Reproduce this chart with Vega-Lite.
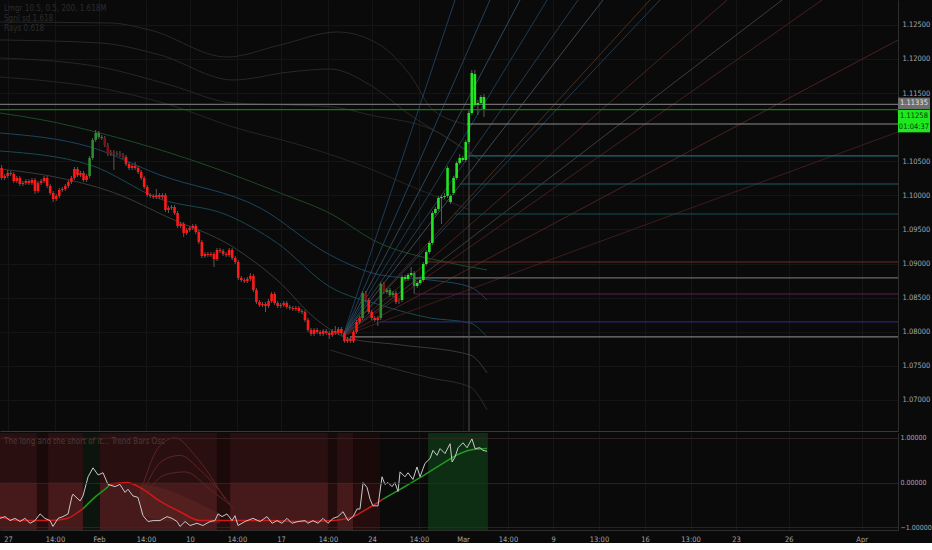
{
"$schema": "https://vega.github.io/schema/vega-lite/v6.json",
"background": "#0a0a0a",
"padding": {"left": -3, "top": 0, "right": 0, "bottom": 0},
"spacing": 1,
"config": {
 "view": {"stroke": null},
 "scale": {"continuousPadding": 0},
 "axis": {"labelFont": "Liberation Sans Narrow, DejaVu Sans Condensed, sans-serif", "labelFontSize": 7.5, "labelColor": "#a3a6ad", "ticks": false, "gridColor": "#161616", "domainColor": "#2e2e2e"},
 "text": {"font": "Liberation Sans Narrow, DejaVu Sans Condensed, sans-serif"}
},
"resolve": {"scale": {"y": "independent", "color": "independent"}},
"datasets": {
 "candles": [
{"t":-0.35,"o":1.10402,"h":1.10446,"l":1.10226,"c":1.10255,"tr":"bs"},
{"t":-0.183,"o":1.10255,"h":1.10314,"l":1.10226,"c":1.10285,"tr":"bs"},
{"t":-0.017,"o":1.10285,"h":1.10373,"l":1.10255,"c":1.10329,"tr":"bs"},
{"t":0.15,"o":1.10329,"h":1.10358,"l":1.10285,"c":1.10314,"tr":"bs"},
{"t":0.317,"o":1.10314,"h":1.10343,"l":1.10182,"c":1.10211,"tr":"bs"},
{"t":0.483,"o":1.10211,"h":1.10285,"l":1.10182,"c":1.10255,"tr":"bs"},
{"t":0.65,"o":1.10255,"h":1.10285,"l":1.10138,"c":1.10167,"tr":"bs"},
{"t":0.817,"o":1.10167,"h":1.10211,"l":1.10138,"c":1.10182,"tr":"bs"},
{"t":0.983,"o":1.10182,"h":1.10240,"l":1.10152,"c":1.10211,"tr":"bs"},
{"t":1.15,"o":1.10211,"h":1.10240,"l":1.10152,"c":1.10182,"tr":"bs"},
{"t":1.317,"o":1.10182,"h":1.10255,"l":1.10152,"c":1.10226,"tr":"bs"},
{"t":1.483,"o":1.10226,"h":1.10255,"l":1.10020,"c":1.10065,"tr":"bs"},
{"t":1.65,"o":1.10065,"h":1.10211,"l":1.10035,"c":1.10182,"tr":"bs"},
{"t":1.817,"o":1.10182,"h":1.10240,"l":1.10152,"c":1.10211,"tr":"bs"},
{"t":1.983,"o":1.10211,"h":1.10285,"l":1.10182,"c":1.10255,"tr":"bs"},
{"t":2.15,"o":1.10255,"h":1.10285,"l":1.10108,"c":1.10138,"tr":"bs"},
{"t":2.317,"o":1.10138,"h":1.10167,"l":1.10006,"c":1.10035,"tr":"bs"},
{"t":2.483,"o":1.10035,"h":1.10065,"l":1.09903,"c":1.09947,"tr":"bs"},
{"t":2.65,"o":1.09947,"h":1.10020,"l":1.09918,"c":1.09991,"tr":"bs"},
{"t":2.817,"o":1.09991,"h":1.10108,"l":1.09962,"c":1.10079,"tr":"bs"},
{"t":2.983,"o":1.10079,"h":1.10123,"l":1.10050,"c":1.10094,"tr":"bs"},
{"t":3.15,"o":1.10094,"h":1.10167,"l":1.10065,"c":1.10138,"tr":"bs"},
{"t":3.317,"o":1.10138,"h":1.10226,"l":1.10108,"c":1.10197,"tr":"bs"},
{"t":3.483,"o":1.10197,"h":1.10285,"l":1.10167,"c":1.10255,"tr":"bs"},
{"t":3.65,"o":1.10255,"h":1.10416,"l":1.10226,"c":1.10387,"tr":"bs"},
{"t":3.817,"o":1.10387,"h":1.10416,"l":1.10270,"c":1.10299,"tr":"bs"},
{"t":3.983,"o":1.10299,"h":1.10358,"l":1.10270,"c":1.10329,"tr":"bs"},
{"t":4.15,"o":1.10329,"h":1.10358,"l":1.10197,"c":1.10226,"tr":"bs"},
{"t":4.317,"o":1.10226,"h":1.10314,"l":1.10197,"c":1.10285,"tr":"bs"},
{"t":4.483,"o":1.10285,"h":1.10578,"l":1.10255,"c":1.10549,"tr":"gw"},
{"t":4.65,"o":1.10549,"h":1.10842,"l":1.10519,"c":1.10813,"tr":"gw"},
{"t":4.817,"o":1.10813,"h":1.10959,"l":1.10783,"c":1.10915,"tr":"gw"},
{"t":4.983,"o":1.10915,"h":1.10944,"l":1.10827,"c":1.10857,"tr":"gw"},
{"t":5.15,"o":1.10857,"h":1.10886,"l":1.10813,"c":1.10842,"tr":"gw"},
{"t":5.317,"o":1.10842,"h":1.10871,"l":1.10710,"c":1.10739,"tr":"bw"},
{"t":5.483,"o":1.10739,"h":1.10768,"l":1.10578,"c":1.10607,"tr":"bw"},
{"t":5.65,"o":1.10607,"h":1.10666,"l":1.10578,"c":1.10637,"tr":"bw"},
{"t":5.817,"o":1.10637,"h":1.10666,"l":1.10373,"c":1.10607,"tr":"bw"},
{"t":5.983,"o":1.10607,"h":1.10651,"l":1.10578,"c":1.10622,"tr":"bw"},
{"t":6.15,"o":1.10622,"h":1.10651,"l":1.10563,"c":1.10593,"tr":"bw"},
{"t":6.317,"o":1.10593,"h":1.10622,"l":1.10534,"c":1.10563,"tr":"bw"},
{"t":6.483,"o":1.10563,"h":1.10593,"l":1.10431,"c":1.10461,"tr":"bs"},
{"t":6.65,"o":1.10461,"h":1.10490,"l":1.10373,"c":1.10402,"tr":"bs"},
{"t":6.817,"o":1.10402,"h":1.10461,"l":1.10373,"c":1.10431,"tr":"bs"},
{"t":6.983,"o":1.10431,"h":1.10490,"l":1.10373,"c":1.10402,"tr":"bs"},
{"t":7.15,"o":1.10402,"h":1.10431,"l":1.10314,"c":1.10343,"tr":"bs"},
{"t":7.317,"o":1.10343,"h":1.10373,"l":1.10226,"c":1.10255,"tr":"bs"},
{"t":7.483,"o":1.10255,"h":1.10285,"l":1.10094,"c":1.10123,"tr":"bs"},
{"t":7.65,"o":1.10123,"h":1.10152,"l":1.09977,"c":1.10006,"tr":"bs"},
{"t":7.817,"o":1.10006,"h":1.10035,"l":1.09962,"c":1.09991,"tr":"bs"},
{"t":7.983,"o":1.09991,"h":1.10020,"l":1.09947,"c":1.09977,"tr":"bs"},
{"t":8.15,"o":1.09977,"h":1.10094,"l":1.09947,"c":1.10006,"tr":"bs"},
{"t":8.317,"o":1.10006,"h":1.10035,"l":1.09947,"c":1.09977,"tr":"bs"},
{"t":8.483,"o":1.09977,"h":1.10035,"l":1.09947,"c":1.10006,"tr":"bs"},
{"t":8.65,"o":1.10006,"h":1.10035,"l":1.09757,"c":1.09786,"tr":"bs"},
{"t":8.817,"o":1.09786,"h":1.09845,"l":1.09742,"c":1.09815,"tr":"bs"},
{"t":8.983,"o":1.09815,"h":1.09859,"l":1.09786,"c":1.09830,"tr":"bs"},
{"t":9.15,"o":1.09830,"h":1.09859,"l":1.09713,"c":1.09742,"tr":"bs"},
{"t":9.317,"o":1.09742,"h":1.09771,"l":1.09522,"c":1.09551,"tr":"bs"},
{"t":9.483,"o":1.09551,"h":1.09610,"l":1.09522,"c":1.09581,"tr":"bs"},
{"t":9.65,"o":1.09581,"h":1.09610,"l":1.09390,"c":1.09449,"tr":"bs"},
{"t":9.817,"o":1.09449,"h":1.09522,"l":1.09420,"c":1.09493,"tr":"bs"},
{"t":9.983,"o":1.09493,"h":1.09551,"l":1.09463,"c":1.09522,"tr":"bs"},
{"t":10.15,"o":1.09522,"h":1.09581,"l":1.09493,"c":1.09551,"tr":"bs"},
{"t":10.317,"o":1.09551,"h":1.09581,"l":1.09434,"c":1.09463,"tr":"bs"},
{"t":10.483,"o":1.09463,"h":1.09493,"l":1.09288,"c":1.09317,"tr":"bs"},
{"t":10.65,"o":1.09317,"h":1.09346,"l":1.09082,"c":1.09111,"tr":"bs"},
{"t":10.817,"o":1.09111,"h":1.09170,"l":1.09082,"c":1.09141,"tr":"bs"},
{"t":10.983,"o":1.09141,"h":1.09170,"l":1.09097,"c":1.09126,"tr":"bs"},
{"t":11.15,"o":1.09126,"h":1.09170,"l":1.09097,"c":1.09141,"tr":"bs"},
{"t":11.317,"o":1.09141,"h":1.09170,"l":1.08950,"c":1.09067,"tr":"bs"},
{"t":11.483,"o":1.09067,"h":1.09229,"l":1.09038,"c":1.09199,"tr":"bs"},
{"t":11.65,"o":1.09199,"h":1.09229,"l":1.09155,"c":1.09185,"tr":"bs"},
{"t":11.817,"o":1.09185,"h":1.09214,"l":1.09111,"c":1.09141,"tr":"bs"},
{"t":11.983,"o":1.09141,"h":1.09170,"l":1.09097,"c":1.09126,"tr":"bs"},
{"t":12.15,"o":1.09126,"h":1.09229,"l":1.09097,"c":1.09199,"tr":"bs"},
{"t":12.317,"o":1.09199,"h":1.09229,"l":1.09052,"c":1.09082,"tr":"bs"},
{"t":12.483,"o":1.09082,"h":1.09111,"l":1.08994,"c":1.09023,"tr":"bs"},
{"t":12.65,"o":1.09023,"h":1.09052,"l":1.08759,"c":1.08789,"tr":"bs"},
{"t":12.817,"o":1.08789,"h":1.08818,"l":1.08730,"c":1.08759,"tr":"bs"},
{"t":12.983,"o":1.08759,"h":1.08789,"l":1.08715,"c":1.08745,"tr":"bs"},
{"t":13.15,"o":1.08745,"h":1.08803,"l":1.08715,"c":1.08774,"tr":"bs"},
{"t":13.317,"o":1.08774,"h":1.08862,"l":1.08745,"c":1.08818,"tr":"bs"},
{"t":13.483,"o":1.08818,"h":1.08847,"l":1.08583,"c":1.08613,"tr":"bs"},
{"t":13.65,"o":1.08613,"h":1.08642,"l":1.08407,"c":1.08436,"tr":"bs"},
{"t":13.817,"o":1.08436,"h":1.08466,"l":1.08363,"c":1.08393,"tr":"bs"},
{"t":13.983,"o":1.08393,"h":1.08436,"l":1.08363,"c":1.08407,"tr":"bs"},
{"t":14.15,"o":1.08407,"h":1.08436,"l":1.08290,"c":1.08378,"tr":"bs"},
{"t":14.317,"o":1.08378,"h":1.08480,"l":1.08349,"c":1.08451,"tr":"bs"},
{"t":14.483,"o":1.08451,"h":1.08583,"l":1.08422,"c":1.08554,"tr":"bs"},
{"t":14.65,"o":1.08554,"h":1.08583,"l":1.08393,"c":1.08422,"tr":"bs"},
{"t":14.817,"o":1.08422,"h":1.08451,"l":1.08349,"c":1.08378,"tr":"bs"},
{"t":14.983,"o":1.08378,"h":1.08422,"l":1.08349,"c":1.08393,"tr":"bs"},
{"t":15.15,"o":1.08393,"h":1.08451,"l":1.08363,"c":1.08422,"tr":"bs"},
{"t":15.317,"o":1.08422,"h":1.08451,"l":1.08334,"c":1.08363,"tr":"bs"},
{"t":15.483,"o":1.08363,"h":1.08393,"l":1.08319,"c":1.08349,"tr":"bs"},
{"t":15.65,"o":1.08349,"h":1.08378,"l":1.08305,"c":1.08334,"tr":"bs"},
{"t":15.817,"o":1.08334,"h":1.08378,"l":1.08305,"c":1.08349,"tr":"bs"},
{"t":15.983,"o":1.08349,"h":1.08378,"l":1.08275,"c":1.08305,"tr":"bs"},
{"t":16.15,"o":1.08305,"h":1.08334,"l":1.08261,"c":1.08290,"tr":"bs"},
{"t":16.317,"o":1.08290,"h":1.08319,"l":1.08144,"c":1.08173,"tr":"bs"},
{"t":16.483,"o":1.08173,"h":1.08202,"l":1.07997,"c":1.08026,"tr":"bs"},
{"t":16.65,"o":1.08026,"h":1.08056,"l":1.07938,"c":1.07968,"tr":"bs"},
{"t":16.817,"o":1.07968,"h":1.08056,"l":1.07938,"c":1.08026,"tr":"bs"},
{"t":16.983,"o":1.08026,"h":1.08056,"l":1.07968,"c":1.07997,"tr":"bs"},
{"t":17.15,"o":1.07997,"h":1.08026,"l":1.07938,"c":1.07968,"tr":"bs"},
{"t":17.317,"o":1.07968,"h":1.08041,"l":1.07938,"c":1.08012,"tr":"bs"},
{"t":17.483,"o":1.08012,"h":1.08041,"l":1.07953,"c":1.07982,"tr":"bs"},
{"t":17.65,"o":1.07982,"h":1.08012,"l":1.07894,"c":1.07953,"tr":"bs"},
{"t":17.817,"o":1.07953,"h":1.08041,"l":1.07924,"c":1.08012,"tr":"bs"},
{"t":17.983,"o":1.08012,"h":1.08085,"l":1.07953,"c":1.07982,"tr":"bs"},
{"t":18.15,"o":1.07982,"h":1.08070,"l":1.07953,"c":1.08041,"tr":"bs"},
{"t":18.317,"o":1.08041,"h":1.08070,"l":1.07953,"c":1.07982,"tr":"bs"},
{"t":18.483,"o":1.07982,"h":1.08012,"l":1.07836,"c":1.07865,"tr":"bs"},
{"t":18.65,"o":1.07865,"h":1.07924,"l":1.07836,"c":1.07894,"tr":"bs"},
{"t":18.817,"o":1.07894,"h":1.07924,"l":1.07836,"c":1.07865,"tr":"bs"},
{"t":18.983,"o":1.07865,"h":1.08026,"l":1.07836,"c":1.07997,"tr":"bs"},
{"t":19.15,"o":1.07997,"h":1.08173,"l":1.07968,"c":1.08144,"tr":"bs"},
{"t":19.317,"o":1.08144,"h":1.08231,"l":1.08114,"c":1.08202,"tr":"bs"},
{"t":19.483,"o":1.08202,"h":1.08598,"l":1.08173,"c":1.08569,"tr":"gw"},
{"t":19.65,"o":1.08569,"h":1.08598,"l":1.08436,"c":1.08466,"tr":"bw"},
{"t":19.817,"o":1.08466,"h":1.08495,"l":1.08261,"c":1.08290,"tr":"bs"},
{"t":19.983,"o":1.08290,"h":1.08319,"l":1.08173,"c":1.08202,"tr":"bs"},
{"t":20.15,"o":1.08202,"h":1.08231,"l":1.08144,"c":1.08173,"tr":"bs"},
{"t":20.317,"o":1.08173,"h":1.08231,"l":1.08085,"c":1.08202,"tr":"bs"},
{"t":20.483,"o":1.08202,"h":1.08730,"l":1.08173,"c":1.08701,"tr":"gw"},
{"t":20.65,"o":1.08701,"h":1.08730,"l":1.08554,"c":1.08583,"tr":"bw"},
{"t":20.817,"o":1.08583,"h":1.08642,"l":1.08554,"c":1.08613,"tr":"gw"},
{"t":20.983,"o":1.08613,"h":1.08642,"l":1.08510,"c":1.08539,"tr":"gw"},
{"t":21.15,"o":1.08539,"h":1.08598,"l":1.08510,"c":1.08569,"tr":"gw"},
{"t":21.317,"o":1.08569,"h":1.08598,"l":1.08407,"c":1.08436,"tr":"bs"},
{"t":21.483,"o":1.08436,"h":1.08495,"l":1.08407,"c":1.08466,"tr":"bw"},
{"t":21.65,"o":1.08466,"h":1.08833,"l":1.08436,"c":1.08803,"tr":"gs"},
{"t":21.817,"o":1.08803,"h":1.08833,"l":1.08745,"c":1.08774,"tr":"gs"},
{"t":21.983,"o":1.08774,"h":1.08862,"l":1.08745,"c":1.08833,"tr":"gs"},
{"t":22.15,"o":1.08833,"h":1.08950,"l":1.08803,"c":1.08862,"tr":"gs"},
{"t":22.317,"o":1.08862,"h":1.08891,"l":1.08554,"c":1.08671,"tr":"gw"},
{"t":22.483,"o":1.08671,"h":1.08745,"l":1.08642,"c":1.08715,"tr":"gs"},
{"t":22.65,"o":1.08715,"h":1.08789,"l":1.08686,"c":1.08759,"tr":"gs"},
{"t":22.817,"o":1.08759,"h":1.09023,"l":1.08730,"c":1.08994,"tr":"gs"},
{"t":22.983,"o":1.08994,"h":1.09199,"l":1.08965,"c":1.09170,"tr":"gs"},
{"t":23.15,"o":1.09170,"h":1.09332,"l":1.09141,"c":1.09302,"tr":"gs"},
{"t":23.317,"o":1.09302,"h":1.09771,"l":1.09273,"c":1.09742,"tr":"gs"},
{"t":23.483,"o":1.09742,"h":1.09830,"l":1.09713,"c":1.09801,"tr":"gs"},
{"t":23.65,"o":1.09801,"h":1.09991,"l":1.09771,"c":1.09962,"tr":"gs"},
{"t":23.817,"o":1.09962,"h":1.10006,"l":1.09581,"c":1.09977,"tr":"gs"},
{"t":23.983,"o":1.09977,"h":1.10035,"l":1.09947,"c":1.09991,"tr":"gs"},
{"t":24.15,"o":1.09991,"h":1.10431,"l":1.09962,"c":1.10402,"tr":"gs"},
{"t":24.317,"o":1.09991,"h":1.10020,"l":1.09874,"c":1.09903,"tr":"gs"},
{"t":24.483,"o":1.10035,"h":1.10285,"l":1.10006,"c":1.10255,"tr":"gs"},
{"t":24.65,"o":1.10255,"h":1.10505,"l":1.10226,"c":1.10475,"tr":"gs"},
{"t":24.817,"o":1.10475,"h":1.10607,"l":1.10446,"c":1.10549,"tr":"gs"},
{"t":24.983,"o":1.10549,"h":1.10578,"l":1.10490,"c":1.10519,"tr":"gs"},
{"t":25.15,"o":1.10519,"h":1.10813,"l":1.10490,"c":1.10783,"tr":"gs"},
{"t":25.317,"o":1.10783,"h":1.11237,"l":1.10754,"c":1.11208,"tr":"gs"},
{"t":25.483,"o":1.11208,"h":1.11839,"l":1.11179,"c":1.11795,"tr":"gs"},
{"t":25.65,"o":1.11780,"h":1.11839,"l":1.11296,"c":1.11326,"tr":"gs"},
{"t":25.817,"o":1.11326,"h":1.11399,"l":1.11179,"c":1.11355,"tr":"gs"},
{"t":25.983,"o":1.11355,"h":1.11472,"l":1.11326,"c":1.11443,"tr":"gs"},
{"t":26.15,"o":1.11443,"h":1.11487,"l":1.11150,"c":1.11267,"tr":"gs"}
 ]
},
"vconcat": [
 {
  "width": 898,
  "height": 431,
  "resolve": {"scale": {"color": "independent"}},
  "layer": [
   {
    "data": {"values": [
     {"c":"U1","t":-0.44,"p":1.12542},{"c":"U1","t":5.60,"p":1.12528},{"c":"U1","t":7.80,"p":1.12425},{"c":"U1","t":12.03,"p":1.12029},{"c":"U1","t":14.95,"p":1.12205},{"c":"U1","t":18.08,"p":1.12396},{"c":"U1","t":20.44,"p":1.12205},{"c":"U1","t":22.09,"p":1.11766},{"c":"U1","t":23.35,"p":1.11252},{"c":"U1","t":25.38,"p":1.11032},
     {"c":"U2","t":-0.44,"p":1.12279},{"c":"U2","t":5.05,"p":1.12235},{"c":"U2","t":8.35,"p":1.12059},{"c":"U2","t":12.36,"p":1.11692},{"c":"U2","t":15.49,"p":1.11810},{"c":"U2","t":17.69,"p":1.11853},{"c":"U2","t":19.89,"p":1.11619},{"c":"U2","t":22.09,"p":1.11179},{"c":"U2","t":24.29,"p":1.10813},{"c":"U2","t":25.93,"p":1.10519},
     {"c":"U3","t":-0.44,"p":1.12015},{"c":"U3","t":5.05,"p":1.11883},{"c":"U3","t":8.90,"p":1.11619},{"c":"U3","t":12.36,"p":1.11355},{"c":"U3","t":15.49,"p":1.11326},{"c":"U3","t":17.86,"p":1.11296},{"c":"U3","t":19.89,"p":1.11179},{"c":"U3","t":23.35,"p":1.10959},{"c":"U3","t":25.93,"p":1.10519},
     {"c":"U4","t":-0.44,"p":1.11736},{"c":"U4","t":5.60,"p":1.11545},{"c":"U4","t":8.90,"p":1.11326},{"c":"U4","t":12.36,"p":1.11003},{"c":"U4","t":16.04,"p":1.10739},{"c":"U4","t":19.34,"p":1.10446},{"c":"U4","t":22.64,"p":1.10079},{"c":"U4","t":25.38,"p":1.09786},
     {"c":"G","t":-0.44,"p":1.11208},{"c":"G","t":1.92,"p":1.11106},{"c":"G","t":5.05,"p":1.10915},{"c":"G","t":8.90,"p":1.10622},{"c":"G","t":11.65,"p":1.10373},{"c":"G","t":14.95,"p":1.10035},{"c":"G","t":17.86,"p":1.09713},{"c":"G","t":20.05,"p":1.09346},{"c":"G","t":24.29,"p":1.09009},{"c":"G","t":26.32,"p":1.08907},
     {"c":"B1","t":-0.44,"p":1.10915},{"c":"B1","t":4.51,"p":1.10710},{"c":"B1","t":8.35,"p":1.10299},{"c":"B1","t":13.85,"p":1.09816},{"c":"B1","t":17.69,"p":1.09127},{"c":"B1","t":20.44,"p":1.08834},{"c":"B1","t":23.19,"p":1.08760},{"c":"B1","t":25.38,"p":1.08658},{"c":"B1","t":26.32,"p":1.08467},
     {"c":"B2","t":-0.44,"p":1.10651},{"c":"B2","t":4.51,"p":1.10446},{"c":"B2","t":8.35,"p":1.09948},{"c":"B2","t":12.03,"p":1.09713},{"c":"B2","t":14.78,"p":1.09303},{"c":"B2","t":17.69,"p":1.08658},{"c":"B2","t":20.44,"p":1.08394},{"c":"B2","t":23.19,"p":1.08203},{"c":"B2","t":25.38,"p":1.08130},{"c":"B2","t":26.32,"p":1.07925},
     {"c":"L1","t":-0.44,"p":1.10387},{"c":"L1","t":2.86,"p":1.10256},{"c":"L1","t":6.15,"p":1.10006},{"c":"L1","t":8.74,"p":1.09684},{"c":"L1","t":12.36,"p":1.09244},{"c":"L1","t":14.78,"p":1.08760},{"c":"L1","t":16.98,"p":1.08174},{"c":"L1","t":18.63,"p":1.07910},{"c":"L1","t":21.54,"p":1.07808},{"c":"L1","t":25.38,"p":1.07661},{"c":"L1","t":26.32,"p":1.07397},
     {"c":"L2","t":17.69,"p":1.07734},{"c":"L2","t":20.44,"p":1.07514},{"c":"L2","t":23.19,"p":1.07324},{"c":"L2","t":25.38,"p":1.07191},{"c":"L2","t":26.32,"p":1.06854}
    ]},
    "mark": {"type": "line", "strokeWidth": 1, "interpolate": "monotone", "clip": true},
    "encoding": {
     "x": {"field": "t", "type": "quantitative", "title": null, "scale": {"domain": [-0.44, 48.9], "nice": false, "zero": false, "padding": 0},
           "axis": {"orient": "bottom", "labels": false, "ticks": false, "domain": true, "domainColor": "#383838", "grid": true, "gridColor": "#151515",
                    "values": [0, 2.58, 5, 7.58, 10, 12.58, 15, 17.58, 20, 22.58, 25, 27.47, 29.95, 32.47, 35, 37.5, 40, 42.9, 46.9]}},
     "y": {"field": "p", "type": "quantitative", "title": null, "scale": {"domain": [1.06545, 1.12865], "nice": false, "zero": false},
           "axis": {"orient": "right", "values": [1.07, 1.075, 1.08, 1.085, 1.09, 1.095, 1.1, 1.105, 1.115, 1.12, 1.125], "format": ".5f", "grid": true, "gridColor": "#151515", "domain": true, "domainColor": "#2e2e2e", "labelPadding": 4}},
     "color": {"field": "c", "type": "nominal", "legend": null,
               "scale": {"domain": ["U1","U2","U3","U4","G","B1","B2","L1","L2"], "range": ["#282828","#282828","#262626","#242424","#1c4a27","#1b4560","#174a50","#3a3a3a","#2c2c2c"]}}
    }
   },
   {
    "data": {"values": [
     {"f":"F1","t":18.41,"p":1.07939},{"f":"F1","t":24.56,"p":1.12865},
     {"f":"F2","t":18.41,"p":1.07939},{"f":"F2","t":26.48,"p":1.12865},
     {"f":"F3","t":18.41,"p":1.07939},{"f":"F3","t":28.13,"p":1.12865},
     {"f":"F4","t":18.41,"p":1.07939},{"f":"F4","t":29.62,"p":1.12865},
     {"f":"F5","t":18.41,"p":1.07939},{"f":"F5","t":31.32,"p":1.12865},
     {"f":"F6","t":18.41,"p":1.07939},{"f":"F6","t":32.69,"p":1.12865},
     {"f":"F7","t":18.41,"p":1.07939},{"f":"F7","t":35.27,"p":1.12865},
     {"f":"F8","t":18.41,"p":1.07939},{"f":"F8","t":35.82,"p":1.12865},
     {"f":"F9","t":18.41,"p":1.07939},{"f":"F9","t":39.51,"p":1.12865},
     {"f":"F10","t":18.41,"p":1.07939},{"f":"F10","t":42.53,"p":1.12865},
     {"f":"F11","t":18.41,"p":1.07939},{"f":"F11","t":44.73,"p":1.12865},
     {"f":"F12","t":18.41,"p":1.07939},{"f":"F12","t":48.9,"p":1.12279},
     {"f":"F13","t":18.41,"p":1.07939},{"f":"F13","t":48.9,"p":1.10930}
    ]},
    "mark": {"type": "line", "strokeWidth": 1, "clip": true, "opacity": 0.8},
    "encoding": {
     "x": {"field": "t", "type": "quantitative", "title": null, "scale": {"domain": [-0.44, 48.9], "nice": false, "zero": false, "padding": 0}},
     "y": {"field": "p", "type": "quantitative", "title": null, "scale": {"domain": [1.06545, 1.12865], "nice": false, "zero": false}},
     "color": {"field": "f", "type": "nominal", "legend": null,
               "scale": {"domain": ["F1","F2","F3","F4","F5","F6","F7","F8","F9","F10","F11","F12","F13"],
                         "range": ["#1e4a72","#284f70","#3a586c","#1f4866","#2d4962","#4a5966","#5a3a26","#2b4660","#5a2a26","#4a4a4a","#562424","#5e2626","#4e2020"]}}
    }
   },
   {
    "data": {"values": [
     {"lv":"prev","t":-0.44,"t2":48.9,"p":1.11335},
     {"lv":"last","t":-0.44,"t2":48.9,"p":1.11258},
     {"lv":"g2","t":25.22,"t2":48.9,"p":1.11047},
     {"lv":"c1","t":25.27,"t2":48.9,"p":1.10578},
     {"lv":"c2","t":24.84,"t2":48.9,"p":1.10167},
     {"lv":"c3","t":24.56,"t2":48.9,"p":1.09727},
     {"lv":"r1","t":22.91,"t2":48.9,"p":1.09023},
     {"lv":"g3","t":22.36,"t2":48.9,"p":1.08789},
     {"lv":"m1","t":22.36,"t2":48.9,"p":1.08554},
     {"lv":"i1","t":20.44,"t2":48.9,"p":1.08144},
     {"lv":"g4","t":18.79,"t2":48.9,"p":1.07925}
    ]},
    "mark": {"type": "rule", "strokeWidth": 1.2, "clip": true},
    "encoding": {
     "x": {"field": "t", "type": "quantitative", "title": null, "scale": {"domain": [-0.44, 48.9], "nice": false, "zero": false, "padding": 0}},
     "x2": {"field": "t2"},
     "y": {"field": "p", "type": "quantitative", "title": null, "scale": {"domain": [1.06545, 1.12865], "nice": false, "zero": false}},
     "color": {"field": "lv", "type": "nominal", "legend": null,
               "scale": {"domain": ["prev","last","g2","c1","c2","c3","r1","g3","m1","i1","g4"],
                         "range": ["#6e6e6e","#127a12","#8a8a8a","#1e6878","#1d5866","#15504e","#6e2a22","#6a6a6a","#5a2050","#2a2470","#7a7a7a"]}}
    }
   },
   {
    "data": {"values": [{"t": 25.33, "p": 1.06545, "p2": 1.11252}]},
    "mark": {"type": "rule", "strokeWidth": 1, "color": "#4e4e4e"},
    "encoding": {
     "x": {"field": "t", "type": "quantitative", "title": null, "scale": {"domain": [-0.44, 48.9], "nice": false, "zero": false, "padding": 0}},
     "y": {"field": "p", "type": "quantitative", "title": null, "scale": {"domain": [1.06545, 1.12865], "nice": false, "zero": false}},
     "y2": {"field": "p2"}
    }
   },
   {
    "data": {"name": "candles"},
    "mark": {"type": "rule", "strokeWidth": 1, "color": "#5a5a5a"},
    "encoding": {
     "x": {"field": "t", "type": "quantitative", "title": null, "scale": {"domain": [-0.44, 48.9], "nice": false, "zero": false, "padding": 0}},
     "y": {"field": "l", "type": "quantitative", "title": null, "scale": {"domain": [1.06545, 1.12865], "nice": false, "zero": false}},
     "y2": {"field": "h"}
    }
   },
   {
    "data": {"name": "candles"},
    "mark": {"type": "bar", "size": 2.6, "orient": "vertical"},
    "encoding": {
     "x": {"field": "t", "type": "quantitative", "title": null, "scale": {"domain": [-0.44, 48.9], "nice": false, "zero": false, "padding": 0}},
     "y": {"field": "o", "type": "quantitative", "title": null, "scale": {"domain": [1.06545, 1.12865], "nice": false, "zero": false}},
     "y2": {"field": "c"},
     "color": {"field": "tr", "type": "nominal", "legend": null,
               "scale": {"domain": ["bs","bw","gw","gs"], "range": ["#ff1a1a","#7a1414","#2e8b2e","#22e622"]}}
    }
   },
   {
    "data": {"values": [{"p": 1.11335}]},
    "mark": {"type": "point", "shape": "M-1,-0.36H1V0.36H-1Z", "size": 1024, "filled": true, "opacity": 1, "fill": "#6d6d6d", "strokeWidth": 0, "xOffset": 16, "yOffset": -1, "clip": false},
    "encoding": {
     "x": {"value": "width"},
     "y": {"field": "p", "type": "quantitative", "title": null, "scale": {"domain": [1.06545, 1.12865], "nice": false, "zero": false}}
    }
   },
   {
    "data": {"values": [{"p": 1.11258}]},
    "mark": {"type": "point", "shape": "M-1,-0.36H1V0.36H-1Z", "size": 1024, "filled": true, "opacity": 1, "fill": "#1ee81e", "strokeWidth": 0, "xOffset": 16, "yOffset": 6, "clip": false},
    "encoding": {
     "x": {"value": "width"},
     "y": {"field": "p", "type": "quantitative", "title": null, "scale": {"domain": [1.06545, 1.12865], "nice": false, "zero": false}}
    }
   },
   {
    "data": {"values": [{"p": 1.11258}]},
    "mark": {"type": "point", "shape": "M-1,-0.36H1V0.36H-1Z", "size": 1024, "filled": true, "opacity": 1, "fill": "#1ee81e", "strokeWidth": 0, "xOffset": 16, "yOffset": 17, "clip": false},
    "encoding": {
     "x": {"value": "width"},
     "y": {"field": "p", "type": "quantitative", "title": null, "scale": {"domain": [1.06545, 1.12865], "nice": false, "zero": false}}
    }
   },
   {
    "data": {"values": [{"p": 1.11335, "lab": "1.11335"}]},
    "mark": {"type": "text", "dx": 16, "yOffset": -1, "align": "center", "baseline": "middle", "fontSize": 7.5, "fill": "#e6e6e6"},
    "encoding": {
     "x": {"value": "width"},
     "y": {"field": "p", "type": "quantitative", "title": null, "scale": {"domain": [1.06545, 1.12865], "nice": false, "zero": false}},
     "text": {"field": "lab"}
    }
   },
   {
    "data": {"values": [{"p": 1.11258, "lab": "1.11258"}]},
    "mark": {"type": "text", "dx": 16, "yOffset": 6, "align": "center", "baseline": "middle", "fontSize": 7.5, "fill": "#0a3a0a"},
    "encoding": {
     "x": {"value": "width"},
     "y": {"field": "p", "type": "quantitative", "title": null, "scale": {"domain": [1.06545, 1.12865], "nice": false, "zero": false}},
     "text": {"field": "lab"}
    }
   },
   {
    "data": {"values": [{"p": 1.11258, "lab": "01:04:37"}]},
    "mark": {"type": "text", "dx": 16, "yOffset": 17, "align": "center", "baseline": "middle", "fontSize": 7.5, "fill": "#0a3a0a"},
    "encoding": {
     "x": {"value": "width"},
     "y": {"field": "p", "type": "quantitative", "title": null, "scale": {"domain": [1.06545, 1.12865], "nice": false, "zero": false}},
     "text": {"field": "lab"}
    }
   },
   {
    "data": {"values": [
     {"t": -0.22, "p": 1.12733, "txt": "Lmgr 10.5, 0.5, 200, 1.618M"},
     {"t": -0.22, "p": 1.12586, "txt": "Sgnl sd 1.618"},
     {"t": -0.22, "p": 1.12440, "txt": "Rays 0.618"}
    ]},
    "mark": {"type": "text", "align": "left", "baseline": "middle", "fontSize": 8, "fill": "#2c2c2c"},
    "encoding": {
     "x": {"field": "t", "type": "quantitative", "title": null, "scale": {"domain": [-0.44, 48.9], "nice": false, "zero": false, "padding": 0}},
     "y": {"field": "p", "type": "quantitative", "title": null, "scale": {"domain": [1.06545, 1.12865], "nice": false, "zero": false}},
     "text": {"field": "txt"}
    }
   }
  ]
 },
 {
  "width": 898,
  "height": 97,
  "resolve": {"scale": {"color": "independent"}},
  "layer": [
   {
    "data": {"values": [
     {"t":-0.44,"t2":1.59,"v":0,"v2":1.109,"z":"bt"},{"t":-0.44,"t2":1.59,"v":-1.06,"v2":0,"z":"bb"},
     {"t":2.20,"t2":4.12,"v":0,"v2":1.109,"z":"bt"},{"t":2.20,"t2":4.12,"v":-1.06,"v2":0,"z":"bb"},
     {"t":5.05,"t2":11.48,"v":0,"v2":1.109,"z":"bt"},{"t":5.05,"t2":11.48,"v":-1.06,"v2":0,"z":"bb"},
     {"t":12.20,"t2":17.58,"v":0,"v2":1.109,"z":"bt"},{"t":12.20,"t2":17.58,"v":-1.06,"v2":0,"z":"bb"},
     {"t":18.08,"t2":18.96,"v":0,"v2":1.109,"z":"bt"},{"t":18.08,"t2":18.96,"v":-1.06,"v2":0,"z":"bb"},
     {"t":1.59,"t2":2.20,"v":0,"v2":1.109,"z":"dt"},{"t":1.59,"t2":2.20,"v":-1.06,"v2":0,"z":"db"},
     {"t":11.48,"t2":12.20,"v":0,"v2":1.109,"z":"dt"},{"t":11.48,"t2":12.20,"v":-1.06,"v2":0,"z":"db"},
     {"t":17.58,"t2":18.08,"v":0,"v2":1.109,"z":"dt"},{"t":17.58,"t2":18.08,"v":-1.06,"v2":0,"z":"db"},
     {"t":18.96,"t2":20.44,"v":0,"v2":1.109,"z":"dt"},{"t":18.96,"t2":20.44,"v":-1.06,"v2":0,"z":"db"},
     {"t":4.12,"t2":5.05,"v":-1.06,"v2":1.109,"z":"ng"},
     {"t":23.08,"t2":26.37,"v":-1.06,"v2":1.109,"z":"gz"}
    ]},
    "mark": {"type": "rect"},
    "encoding": {
     "x": {"field": "t", "type": "quantitative", "title": null, "scale": {"domain": [-0.44, 48.9], "nice": false, "zero": false, "padding": 0},
           "axis": {"orient": "bottom", "values": [0, 2.58, 5, 7.58, 10, 12.58, 15, 17.58, 20, 22.58, 25, 27.47, 29.95, 32.47, 35, 37.5, 40, 42.9, 46.9],
                    "labelExpr": "['27','14:00','Feb','14:00','10','14:00','17','14:00','24','14:00','Mar','14:00','9','13:00','16','13:00','23','26','Apr'][indexof([0,2.58,5,7.58,10,12.58,15,17.58,20,22.58,25,27.47,29.95,32.47,35,37.5,40,42.9,46.9], datum.value)]",
                    "labelOverlap": false, "labelFlush": false, "grid": true, "gridColor": "#151515", "domain": true, "domainColor": "#2e2e2e", "labelPadding": 5}},
     "x2": {"field": "t2"},
     "y": {"field": "v", "type": "quantitative", "title": null, "scale": {"domain": [-1.06, 1.109], "nice": false, "zero": false},
           "axis": {"orient": "right", "values": [-1, -0.5, 0, 0.5, 1], "format": ".5f", "grid": true, "gridColor": "#3a2a2a", "gridOpacity": 0.7, "zindex": 1, "domain": true, "domainColor": "#2e2e2e", "labelPadding": 2, "labelFontSize": 7}},
     "y2": {"field": "v2"},
     "color": {"field": "z", "type": "nominal", "legend": null,
               "scale": {"domain": ["bt","bb","dt","db","ng","gz"], "range": ["#2a0f10","#461a1b","#1a0909","#260d0d","#0c150d","#0e2e13"]}}
    }
   },
   {
    "data": {"values": [
     {"t":7.25,"lo":-0.696,"hi":-0.043},{"t":8.35,"lo":-0.848,"hi":-0.109},{"t":10.0,"lo":-0.891,"hi":-0.37},{"t":11.65,"lo":-0.913,"hi":-0.696}
    ]},
    "mark": {"type": "area", "interpolate": "monotone", "color": "#5c2323", "opacity": 0.6},
    "encoding": {
     "x": {"field": "t", "type": "quantitative", "title": null, "scale": {"domain": [-0.44, 48.9], "nice": false, "zero": false, "padding": 0}},
     "y": {"field": "lo", "type": "quantitative", "title": null, "scale": {"domain": [-1.06, 1.109], "nice": false, "zero": false}},
     "y2": {"field": "hi"}
    }
   },
   {
    "data": {"values": [
     {"m":"f1","t":7.25,"v":-0.26},{"m":"f1","t":8.35,"v":0.826},{"m":"f1","t":9.18,"v":1.0},{"m":"f1","t":10.27,"v":0.609},{"m":"f1","t":11.92,"v":-0.37},
     {"m":"f2","t":7.25,"v":-0.37},{"m":"f2","t":8.52,"v":0.5},{"m":"f2","t":9.45,"v":0.609},{"m":"f2","t":10.55,"v":0.283},{"m":"f2","t":12.20,"v":-0.478},
     {"m":"f3","t":7.25,"v":-0.478},{"m":"f3","t":8.63,"v":0.174},{"m":"f3","t":9.73,"v":0.239},{"m":"f3","t":11.10,"v":-0.152},{"m":"f3","t":12.47,"v":-0.587}
    ]},
    "mark": {"type": "line", "interpolate": "monotone", "strokeWidth": 1, "color": "#5e2424"},
    "encoding": {
     "x": {"field": "t", "type": "quantitative", "title": null, "scale": {"domain": [-0.44, 48.9], "nice": false, "zero": false, "padding": 0}},
     "y": {"field": "v", "type": "quantitative", "title": null, "scale": {"domain": [-1.06, 1.109], "nice": false, "zero": false}},
     "detail": {"field": "m"}
    }
   },
   {
    "data": {"values": [
     {"s":"s1","d":"dn","t":-0.44,"v":-0.761},{"s":"s1","d":"dn","t":0.66,"v":-0.848},{"s":"s1","d":"dn","t":2.31,"v":-0.848},{"s":"s1","d":"dn","t":3.24,"v":-0.804},{"s":"s1","d":"dn","t":3.96,"v":-0.630},{"s":"s1","d":"dn","t":4.12,"v":-0.587},
     {"s":"s2","d":"up","t":4.12,"v":-0.587},{"s":"s2","d":"up","t":4.78,"v":-0.326},{"s":"s2","d":"up","t":5.44,"v":-0.109},{"s":"s2","d":"up","t":5.60,"v":-0.043},
     {"s":"s3","d":"dn","t":5.60,"v":-0.043},{"s":"s3","d":"dn","t":6.54,"v":0.0},{"s":"s3","d":"dn","t":7.25,"v":-0.109},{"s":"s3","d":"dn","t":8.35,"v":-0.413},{"s":"s3","d":"dn","t":9.45,"v":-0.652},{"s":"s3","d":"dn","t":10.55,"v":-0.848},{"s":"s3","d":"dn","t":12.36,"v":-0.848},{"s":"s3","d":"dn","t":14.23,"v":-0.848},{"s":"s3","d":"dn","t":16.04,"v":-0.87},{"s":"s3","d":"dn","t":17.86,"v":-0.848},{"s":"s3","d":"dn","t":18.96,"v":-0.761},{"s":"s3","d":"dn","t":19.73,"v":-0.587},{"s":"s3","d":"dn","t":20.44,"v":-0.413},{"s":"s3","d":"dn","t":20.60,"v":-0.37},
     {"s":"s4","d":"up","t":20.60,"v":-0.37},{"s":"s4","d":"up","t":21.54,"v":-0.152},{"s":"s4","d":"up","t":22.64,"v":0.109},{"s":"s4","d":"up","t":23.74,"v":0.391},{"s":"s4","d":"up","t":24.84,"v":0.652},{"s":"s4","d":"up","t":25.55,"v":0.739},{"s":"s4","d":"up","t":26.32,"v":0.761}
    ]},
    "mark": {"type": "line", "interpolate": "monotone", "strokeWidth": 1.5},
    "encoding": {
     "x": {"field": "t", "type": "quantitative", "title": null, "scale": {"domain": [-0.44, 48.9], "nice": false, "zero": false, "padding": 0}},
     "y": {"field": "v", "type": "quantitative", "title": null, "scale": {"domain": [-1.06, 1.109], "nice": false, "zero": false}},
     "detail": {"field": "s"},
     "color": {"field": "d", "type": "nominal", "legend": null, "scale": {"domain": ["dn","up"], "range": ["#d01818","#1f9a1f"]}}
    }
   },
   {
    "data": {"values": [
     {"t":-0.44,"v":-0.80},{"t":-0.16,"v":-0.76},{"t":0.11,"v":-0.85},{"t":0.38,"v":-0.80},{"t":0.66,"v":-0.87},{"t":0.93,"v":-0.80},{"t":1.21,"v":-0.91},{"t":1.48,"v":-0.85},{"t":1.76,"v":-0.70},{"t":2.03,"v":-0.80},{"t":2.31,"v":-0.85},{"t":2.47,"v":-0.98},{"t":2.75,"v":-0.80},{"t":3.02,"v":-0.76},{"t":3.30,"v":-0.70},{"t":3.52,"v":-0.30},{"t":3.57,"v":-0.26},{"t":3.96,"v":-0.41},{"t":4.12,"v":-0.30},{"t":4.40,"v":0.13},{"t":4.67,"v":0.33},{"t":4.95,"v":0.17},{"t":5.22,"v":0.22},{"t":5.49,"v":-0.04},{"t":5.88,"v":-0.09},{"t":6.15,"v":-0.04},{"t":6.43,"v":-0.22},{"t":6.59,"v":-0.15},{"t":6.87,"v":-0.30},{"t":7.14,"v":-0.33},{"t":7.42,"v":-0.74},{"t":7.69,"v":-0.87},{"t":7.97,"v":-0.85},{"t":8.35,"v":-0.85},{"t":8.74,"v":-0.76},{"t":9.01,"v":-0.80},{"t":9.29,"v":-0.87},{"t":9.45,"v":-0.98},{"t":9.73,"v":-0.87},{"t":10.00,"v":-0.96},{"t":10.38,"v":-0.91},{"t":10.71,"v":-0.96},{"t":11.10,"v":-0.87},{"t":11.37,"v":-0.85},{"t":11.54,"v":-0.70},{"t":11.76,"v":-0.76},{"t":12.03,"v":-0.70},{"t":12.31,"v":-0.85},{"t":12.47,"v":-0.74},{"t":12.64,"v":-0.96},{"t":13.02,"v":-0.87},{"t":13.46,"v":-0.80},{"t":13.85,"v":-0.87},{"t":14.23,"v":-0.76},{"t":14.51,"v":-0.91},{"t":14.78,"v":-0.85},{"t":15.05,"v":-0.91},{"t":15.33,"v":-0.80},{"t":15.60,"v":-0.91},{"t":15.93,"v":-0.87},{"t":16.32,"v":-0.85},{"t":16.48,"v":-0.91},{"t":16.76,"v":-0.85},{"t":17.03,"v":-0.91},{"t":17.31,"v":-0.80},{"t":17.58,"v":-0.91},{"t":17.86,"v":-0.80},{"t":18.13,"v":-0.76},{"t":18.41,"v":-0.65},{"t":18.68,"v":-0.85},{"t":18.96,"v":-0.76},{"t":19.18,"v":-0.59},{"t":19.34,"v":-0.59},{"t":19.51,"v":0.00},{"t":19.73,"v":-0.11},{"t":19.89,"v":-0.37},{"t":20.05,"v":-0.52},{"t":20.33,"v":-0.52},{"t":20.55,"v":0.13},{"t":20.71,"v":-0.04},{"t":20.88,"v":0.00},{"t":21.10,"v":-0.09},{"t":21.26,"v":0.00},{"t":21.43,"v":-0.20},{"t":21.54,"v":0.24},{"t":21.81,"v":0.13},{"t":21.98,"v":0.22},{"t":22.25,"v":0.07},{"t":22.47,"v":0.35},{"t":22.64,"v":0.13},{"t":22.91,"v":0.43},{"t":23.19,"v":0.54},{"t":23.35,"v":0.72},{"t":23.57,"v":0.61},{"t":23.74,"v":0.76},{"t":24.01,"v":0.65},{"t":24.29,"v":0.87},{"t":24.40,"v":0.46},{"t":24.56,"v":0.57},{"t":24.73,"v":0.78},{"t":25.00,"v":0.89},{"t":25.22,"v":0.78},{"t":25.49,"v":0.98},{"t":25.66,"v":0.76},{"t":25.93,"v":0.78},{"t":26.10,"v":0.72},{"t":26.32,"v":0.70}
    ]},
    "mark": {"type": "line", "strokeWidth": 1, "color": "#c9c9c9"},
    "encoding": {
     "x": {"field": "t", "type": "quantitative", "title": null, "scale": {"domain": [-0.44, 48.9], "nice": false, "zero": false, "padding": 0}},
     "y": {"field": "v", "type": "quantitative", "title": null, "scale": {"domain": [-1.06, 1.109], "nice": false, "zero": false}}
    }
   },
   {
    "data": {"values": [{"t": -0.22, "v": 0.913, "txt": "The long and the short of it... Trend Bars Osc"}]},
    "mark": {"type": "text", "align": "left", "baseline": "middle", "fontSize": 8, "fill": "#4a3a3a"},
    "encoding": {
     "x": {"field": "t", "type": "quantitative", "title": null, "scale": {"domain": [-0.44, 48.9], "nice": false, "zero": false, "padding": 0}},
     "y": {"field": "v", "type": "quantitative", "title": null, "scale": {"domain": [-1.06, 1.109], "nice": false, "zero": false}},
     "text": {"field": "txt"}
    }
   }
  ]
 }
]
}
